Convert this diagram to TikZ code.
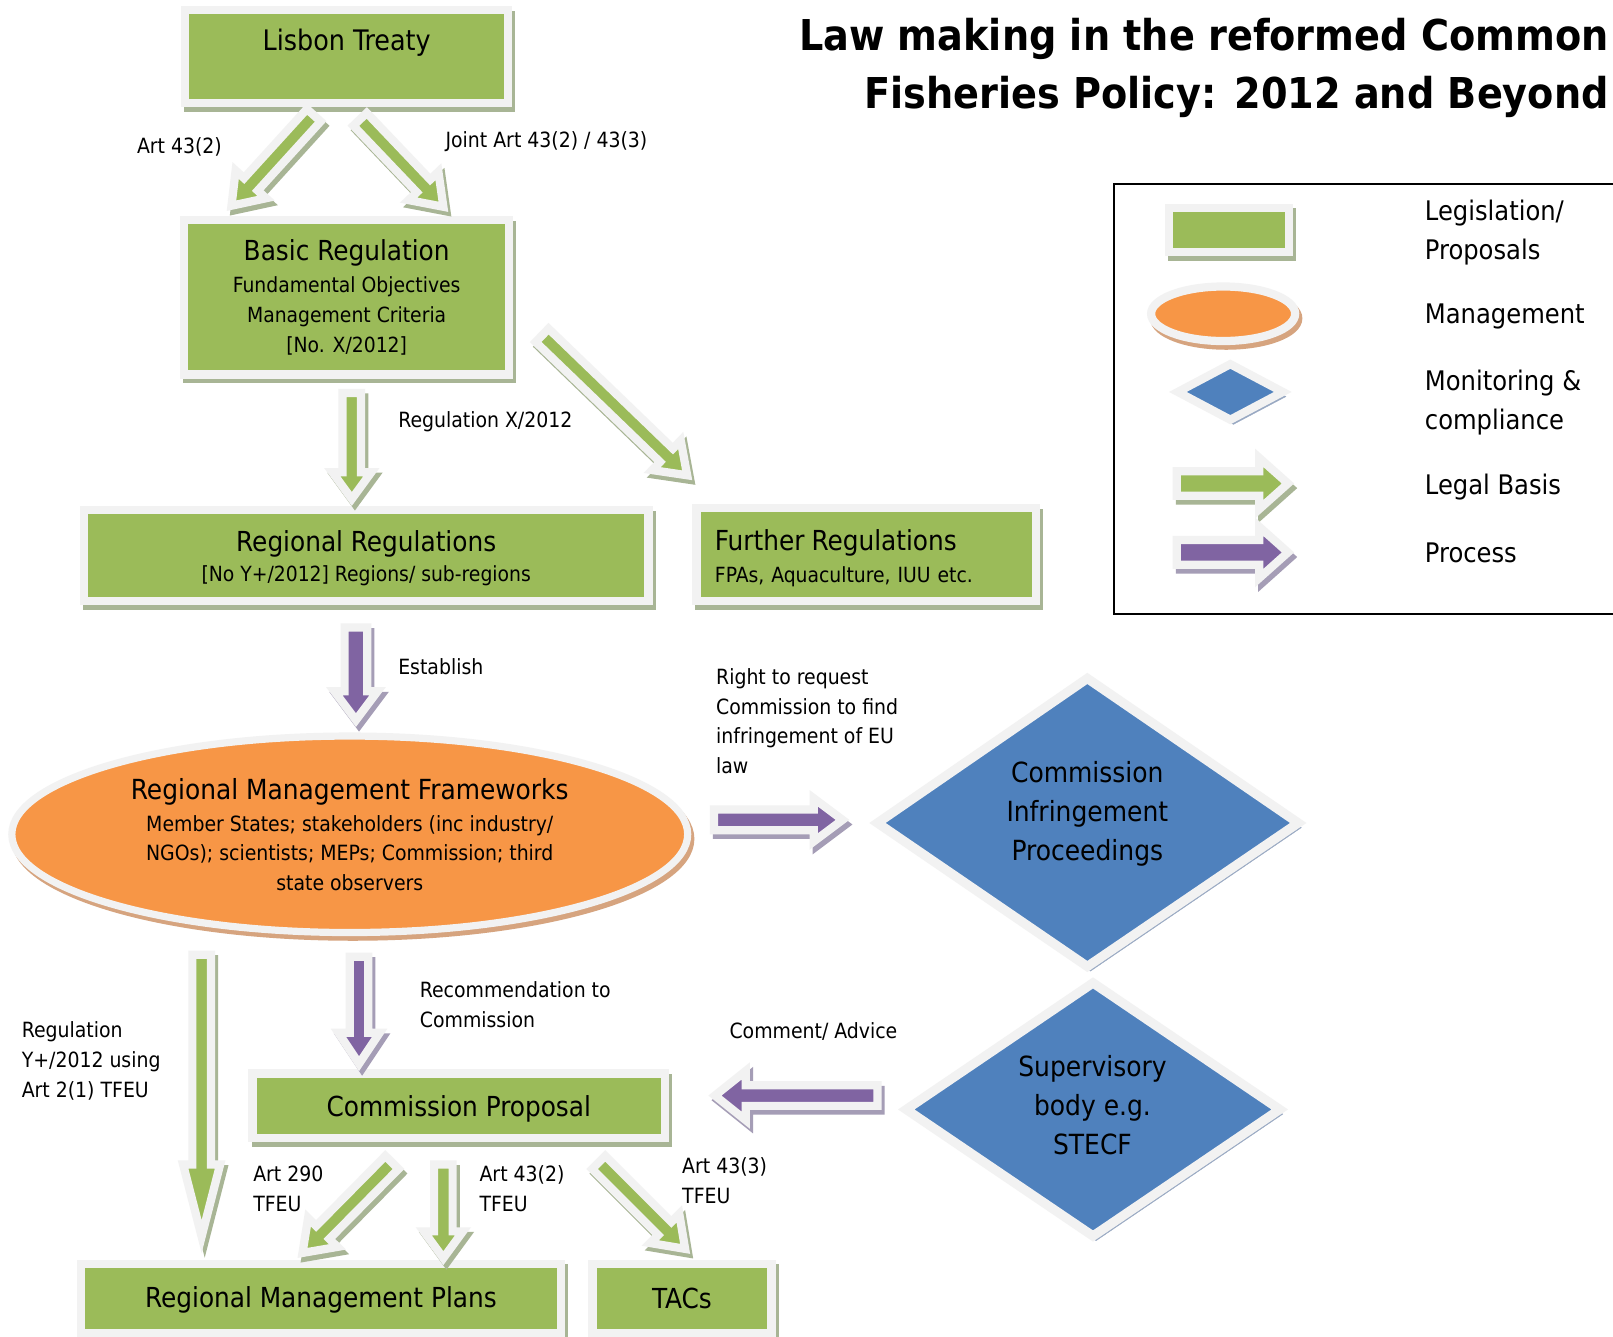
\documentclass[tikz,border=0pt]{standalone}
\usepackage{fontspec}
\setmainfont{DejaVu Sans Condensed}
\usetikzlibrary{calc,shapes.geometric}

\definecolor{lgreen}{HTML}{9BBB59}
\definecolor{lorange}{HTML}{F79646}
\definecolor{lblue}{HTML}{4F81BD}
\definecolor{lpurple}{HTML}{8064A2}
\definecolor{framecol}{HTML}{F2F2F2}
\definecolor{gshadow}{HTML}{A8B595}
\definecolor{oshadow}{HTML}{D6A47F}
\definecolor{bshadow}{HTML}{98A8C2}
\definecolor{pshadow}{HTML}{A59DB6}

\newdimen\baXa \newdimen\baYa \newdimen\baXb \newdimen\baYb
% #1 start, #2 end, #3 fill, #4 shadow, #5 shaft half width, #6 head half width, #7 head length
\newcommand\blockarrow[7]{%
  \pgfextractx{\baXa}{\pgfpointanchor{#1}{center}}%
  \pgfextracty{\baYa}{\pgfpointanchor{#1}{center}}%
  \pgfextractx{\baXb}{\pgfpointanchor{#2}{center}}%
  \pgfextracty{\baYb}{\pgfpointanchor{#2}{center}}%
  \pgfmathsetmacro\baAng{atan2(\baYb-\baYa,\baXb-\baXa)}%
  \pgfmathsetmacro\baLen{veclen(\baXb-\baXa,\baYb-\baYa)}%
  \pgfmathsetmacro\baBase{\baLen-#7}%
  \def\baPath{(0pt,-#5pt) -- (\baBase pt,-#5pt) -- (\baBase pt,-#6pt) -- (\baLen pt,0pt) -- (\baBase pt,#6pt) -- (\baBase pt,#5pt) -- (0pt,#5pt) -- cycle}%
  \begin{scope}[shift={(3pt,-4.5pt)}]
    \begin{scope}[shift={(\the\baXa,\the\baYa)},rotate=\baAng]
      \filldraw[#4, line width=8pt, line join=miter] \baPath;
    \end{scope}
  \end{scope}
  \begin{scope}[shift={(\the\baXa,\the\baYa)},rotate=\baAng]
    \fill[#3] \baPath;
    \draw[framecol, line width=8pt, line join=miter] \baPath;
  \end{scope}
}

\tikzset{
  shadowed/.style={preaction={fill=#1, draw=#1, transform canvas={shift={(3pt,-4.5pt)}}}},
  gbox/.style={rectangle, fill=lgreen, draw=framecol, line width=8pt, shadowed=gshadow, inner sep=0pt, align=center, font=\fontsize{20.3}{29}\selectfont},
  oell/.style={ellipse, fill=lorange, draw=framecol, line width=7pt, shadowed=oshadow, inner sep=0pt, align=center, font=\fontsize{20.4}{28.5}\selectfont},
  bdia/.style={fill=lblue, draw=framecol, line width=9pt, line join=miter, shadowed=bshadow},
  diatext/.style={align=center, inner sep=0pt, font=\fontsize{27}{38}\selectfont},
  lab/.style={anchor=west, align=left, inner sep=0pt, font=\fontsize{20.4}{29}\selectfont},
  legtext/.style={anchor=west, align=left, inner sep=0pt, font=\fontsize{26.2}{38}\selectfont}
}
\newcommand\ttl[1]{{\fontsize{26.8}{31}\selectfont #1}}

\begin{document}
\begin{tikzpicture}[x=1pt,y=-1pt]
\useasboundingbox (0,0) rectangle (1568,1299);
\fill[white] (0,0) rectangle (1568,1299);

% title
\node[font=\bfseries\fontsize{41.3}{57}\selectfont, align=right, anchor=east, inner sep=0pt] (title) at (1564,66)
  {Law making in the reformed Common\\Fisheries Policy: 2012 and Beyond};

% boxes
\node[gbox, minimum width=314pt, minimum height=90pt, text height=20pt, text depth=31pt, font=\fontsize{27.5}{30}\selectfont] (lisbon) at (337,55) {Lisbon Treaty};
\node[gbox, minimum width=316pt, minimum height=150pt] (basic) at (337,289)
  {\ttl{Basic Regulation}\\[2pt] Fundamental Objectives\\ Management Criteria\\ {[No. X/2012]}};
\node[gbox, minimum width=549pt, minimum height=88pt] (regreg) at (356,540)
  {\rule{0pt}{26pt}\ttl{Regional Regulations}\\ {[No Y+/2012] Regions/ sub-regions}};
\node[gbox, minimum width=330pt, minimum height=90pt, text width=294pt, align=left] (further) at (842,539)
  {\rule{0pt}{27pt}\ttl{Further Regulations}\\[2pt] FPAs, Aquaculture, IUU etc.};
\node[oell, minimum width=657pt, minimum height=191pt] (rmf) at (340,811)
  {{\fontsize{26.9}{31}\selectfont Regional Management Frameworks}\\[3pt]
   Member States; stakeholders (inc industry/\\ NGOs); scientists; MEPs; Commission; third\\ state observers};
\node[gbox, minimum width=401pt, minimum height=63pt, text height=21pt, text depth=0pt, font=\fontsize{26.8}{31}\selectfont] (cp) at (446,1075) {Commission Proposal};
\node[gbox, minimum width=466pt, minimum height=67pt, text height=20pt, text depth=2.5pt, font=\fontsize{26.8}{31}\selectfont] (rmp) at (312,1262) {Regional Management Plans};
\node[gbox, minimum width=174pt, minimum height=67pt, font=\fontsize{26.8}{31}\selectfont] (tacs) at (663,1262) {TACs};

% diamonds
\path[bdia] (1057,659.5) -- (1262,800) -- (1057,939.5) -- (853,800) -- cycle;
\node[diatext] (cip) at (1057,791) {Commission\\Infringement\\Proceedings};
\path[bdia] (1062.5,955.5) -- (1244,1078.5) -- (1062.5,1201.5) -- (881,1078.5) -- cycle;
\node[diatext] (sb) at (1062,1074) {Supervisory\\body e.g.\\STECF};

% arrow end points
\coordinate (a1s) at (305,112);  \coordinate (a1e) at (225,200);
\coordinate (a2s) at (350,116);  \coordinate (a2e) at (431,201);
\coordinate (a3s) at (342,382);  \coordinate (a3e) at (342,485);
\coordinate (a4s) at (527,326);  \coordinate (a4e) at (668,462);
\coordinate (a5s) at (346,610);  \coordinate (a5e) at (346,700);
\coordinate (a6s) at (694,797);  \coordinate (a6e) at (819,797);
\coordinate (a7s) at (196,928);  \coordinate (a7e) at (196,1202);
\coordinate (a8s) at (349,930);  \coordinate (a8e) at (349,1034);
\coordinate (a9s) at (853,1065); \coordinate (a9e) at (695,1065);
\coordinate (a10s) at (381,1130); \coordinate (a10e) at (294,1218);
\coordinate (a11s) at (431,1132); \coordinate (a11e) at (431,1223);
\coordinate (a12s) at (582,1130); \coordinate (a12e) at (666,1214);

\blockarrow{a1s}{a1e}{lgreen}{gshadow}{9}{20}{28}
\blockarrow{a2s}{a2e}{lgreen}{gshadow}{9}{20}{28}
\blockarrow{a3s}{a3e}{lgreen}{gshadow}{9}{19}{26}
\blockarrow{a4s}{a4e}{lgreen}{gshadow}{9}{20}{28}
\blockarrow{a5s}{a5e}{lpurple}{pshadow}{11}{21}{28}
\blockarrow{a6s}{a6e}{lpurple}{pshadow}{10}{21}{28}
\blockarrow{a7s}{a7e}{lgreen}{gshadow}{9}{18}{70}
\blockarrow{a8s}{a8e}{lpurple}{pshadow}{9}{20}{30}
\blockarrow{a9s}{a9e}{lpurple}{pshadow}{10}{24}{30}
\blockarrow{a10s}{a10e}{lgreen}{gshadow}{9}{20}{28}
\blockarrow{a11s}{a11e}{lgreen}{gshadow}{9}{19}{26}
\blockarrow{a12s}{a12e}{lgreen}{gshadow}{9}{20}{28}

% labels
\node[lab] (l1) at (133,143) {Art 43(2)};
\node[lab] (l2) at (433,138) {Joint Art 43(2) / 43(3)};
\node[lab] (l3) at (387,410) {Regulation X/2012};
\node[lab] (l4) at (387,648) {Establish};
\node[lab] (l5) at (696,701) {Right to request\\Commission to find\\infringement of EU\\law};
\node[lab] (l6) at (21,1031) {Regulation\\Y+/2012 using\\Art 2(1) TFEU};
\node[lab] (l7) at (408,976.5) {Recommendation to\\Commission};
\node[lab] (l8) at (709,1003) {Comment/ Advice};
\node[lab] (l9) at (246,1155.5) {Art 290\\TFEU};
\node[lab] (l10) at (466,1155.5) {Art 43(2)\\TFEU};
\node[lab] (l11) at (663,1147.5) {Art 43(3)\\TFEU};

% legend
\draw[line width=2pt] (1083,179) rectangle (1640,597);
\node[gbox, minimum width=117pt, minimum height=43pt] (lrect) at (1194.5,223.5) {};
\node[oell, minimum width=140pt, minimum height=53pt, line width=8pt] (lell) at (1189,305) {};
\path[bdia, line width=8pt] (1196,354) -- (1247,381) -- (1196,408) -- (1145,381) -- cycle;
\coordinate (lg1) at (1144,470); \coordinate (lg2) at (1252,470);
\coordinate (lp1) at (1144,537); \coordinate (lp2) at (1252,537);
\blockarrow{lg1}{lg2}{lgreen}{gshadow}{12}{25}{28}
\blockarrow{lp1}{lp2}{lpurple}{pshadow}{12}{25}{28}
\node[legtext] (t1) at (1385,226) {Legislation/\\Proposals};
\node[legtext] (t2) at (1385,308) {Management};
\node[legtext] (t3) at (1385,391) {Monitoring \&\\compliance};
\node[legtext] (t4) at (1385,473) {Legal Basis};
\node[legtext] (t5) at (1385,537) {Process};
\end{tikzpicture}
\end{document}
